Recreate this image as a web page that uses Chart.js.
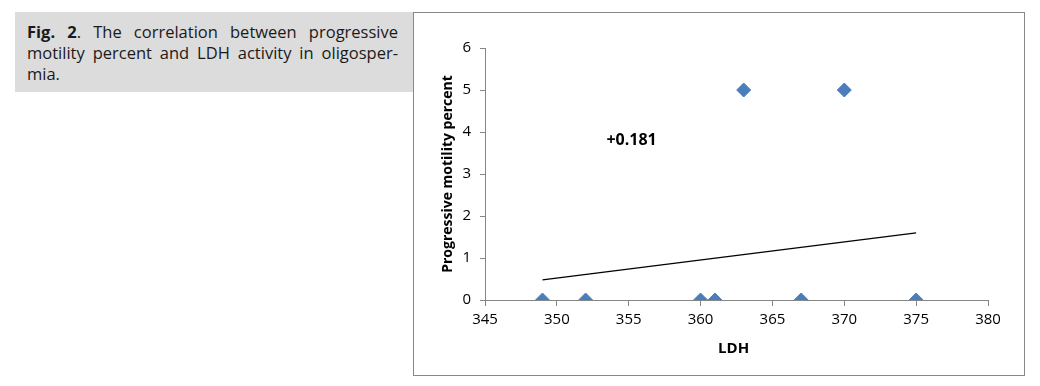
<!DOCTYPE html>
<html>
<head>
<meta charset="utf-8">
<script src="https://cdn.jsdelivr.net/npm/chart.js@4"></script>
<style>
  body { margin: 0; background: #fff; width: 1040px; height: 386px; position: relative; overflow: hidden; }
  #caption {
    position: absolute; left: 15px; top: 12px; width: 398px; height: 80px;
    background: #dcdcdc; box-sizing: border-box; padding: 9px 15px 0 12px;
    font-family: 'Open Sans', sans-serif; font-size: 16.5px; color: #1a1a1a; line-height: 21px;
  }
  #caption .j { text-align: justify; text-align-last: justify; }
  #frame {
    position: absolute; left: 413px; top: 12px; width: 610px; height: 362px;
    border: 1px solid #888;
  }
</style>
</head>
<body>
<div id="caption">
  <div class="j"><b>Fig. 2</b>. The correlation between progressive</div>
  <div class="j">motility percent and LDH activity in oligosper-</div>
  <div>mia.</div>
</div>
<div id="frame"><canvas id="scatterChart" width="610" height="362"></canvas></div>
<script>
// LDH vs progressive motility points
const ldh = [349, 352, 360, 361, 363, 367, 370, 375];
const motility = [0, 0, 0, 0, 5, 0, 5, 0];

// trend line end points
const trendX = [349, 375];
const trendY = [0.48, 1.6];

const xTicks = [345, 350, 355, 360, 365, 370, 375, 380];
const yTicks = [0, 1, 2, 3, 4, 5, 6];
const rLabel = '+0.181';
const xTitle = 'LDH';

const axisGrey = '#868686';
const tickFont = { family: 'Open Sans', size: 15 };

// correlation value inside the plot + x axis title (sits a bit left of centre in the original)
const textPlugin = {
    id: 'extraText',
    afterDatasetsDraw(chart) {
        const ctx = chart.ctx;
        const xs = chart.scales.x, ys = chart.scales.y;
        ctx.save();
        ctx.fillStyle = '#000';
        ctx.textAlign = 'center';
        ctx.textBaseline = 'middle';
        ctx.font = 'bold 16px "Open Sans"';
        ctx.fillText(rLabel, xs.getPixelForValue(355.2), ys.getPixelForValue(3.8));
        ctx.font = 'bold 15px "Open Sans"';
        ctx.fillText(xTitle, xs.getPixelForValue(362.3), ys.bottom + 49);
        ctx.restore();
    }
};

const scatterChart = new Chart(document.getElementById('scatterChart'), {
    type: 'scatter',
    data: {
        datasets: [{
            label: 'Progressive motility',
            data: ldh.map((v, i) => ({ x: v, y: motility[i] })),
            pointStyle: 'rectRot',
            pointRadius: 7,
            pointHoverRadius: 7,
            backgroundColor: '#4a7ebb',
            borderColor: '#4a7ebb',
            borderWidth: 1,
            order: 1
        }, {
            label: 'Trend',
            type: 'line',
            data: trendX.map((v, i) => ({ x: v, y: trendY[i] })),
            borderColor: '#000',
            borderWidth: 1.2,
            pointRadius: 0,
            fill: false,
            order: 2
        }]
    },
    options: {
        responsive: false,
        animation: false,
        layout: { padding: { left: 0, top: 35, right: 36, bottom: 0 } },
        plugins: {
            legend: { display: false },
            tooltip: { enabled: false }
        },
        scales: {
            x: {
                type: 'linear',
                min: xTicks[0],
                max: xTicks[xTicks.length - 1],
                afterBuildTicks: (scale) => { scale.ticks = xTicks.map(v => ({ value: v })); },
                grid: { drawOnChartArea: false, tickLength: 6, color: axisGrey },
                border: { color: axisGrey },
                ticks: { color: '#000', font: tickFont, padding: 5, maxRotation: 0 },
                afterFit: (scale) => { scale.height = 75; }
            },
            y: {
                min: yTicks[0],
                max: yTicks[yTicks.length - 1],
                afterBuildTicks: (scale) => { scale.ticks = yTicks.map(v => ({ value: v })); },
                grid: { drawOnChartArea: false, tickLength: 5, color: axisGrey },
                border: { color: axisGrey },
                ticks: { color: '#000', font: tickFont, padding: 9 },
                title: { display: true, text: 'Progressive motility percent', color: '#000', font: { family: 'Open Sans', size: 14, weight: 'bold' }, padding: { top: 26, bottom: 0 } },
                afterFit: (scale) => { scale.width = 71; }
            }
        }
    },
    plugins: [textPlugin]
});
</script>
</body>
</html>
